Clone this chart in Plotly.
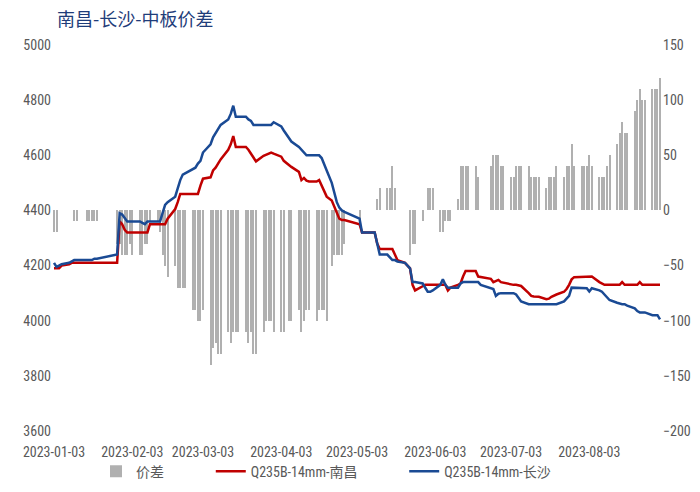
import pandas as pd
import plotly.graph_objects as go

# ---------------- data ----------------
holidays = ["2023-01-23", "2023-01-24", "2023-01-25", "2023-01-26", "2023-01-27",
            "2023-04-05", "2023-05-01", "2023-05-02", "2023-05-03",
            "2023-06-22", "2023-06-23"]
makeup_days = ["2023-01-28", "2023-01-29", "2023-04-23", "2023-05-06", "2023-06-25"]

bdays = pd.bdate_range("2023-01-03", "2023-08-31")
dates = sorted(set(bdays.strftime("%Y-%m-%d")) - set(holidays) | set(makeup_days))

changsha = [  # Q235B-14mm-长沙
    4210, 4195, 4200, 4205,
    4210, 4215, 4220, 4220, 4220,
    4220, 4220, 4220, 4225, 4225,
    4240, 4390,
    4385, 4370, 4360, 4360, 4360,
    4360, 4355, 4350, 4360, 4360,
    4360, 4360, 4390, 4420, 4430,
    4450, 4480, 4510, 4530, 4535,
    4550, 4555, 4570, 4580, 4610,
    4640, 4665, 4680, 4700, 4710,
    4730, 4750, 4780, 4740, 4740,
    4740, 4730, 4725, 4710, 4710,
    4710, 4710, 4710, 4710, 4720,
    4705, 4690, 4660, 4650,
    4630, 4620, 4610, 4600, 4600,
    4600, 4600, 4590, 4570, 4545,
    4500, 4460, 4430, 4410, 4400, 4395,
    4370, 4320, 4320,
    4320, 4320, 4320, 4280, 4240,
    4240, 4230, 4220, 4220, 4215,
    4210, 4200, 4190, 4140, 4140,
    4135, 4120, 4105, 4105, 4110,
    4130, 4150, 4130, 4120, 4120,
    4120, 4135, 4140, 4140, 4140,
    4140, 4140, 4130,
    4120, 4115, 4090, 4098, 4100, 4100,
    4100, 4100, 4095, 4080, 4070,
    4060, 4060, 4060, 4060, 4060,
    4060, 4060, 4060, 4060, 4060,
    4070, 4080, 4090, 4120, 4120,
    4120, 4120, 4118, 4106, 4118,
    4110, 4105, 4095, 4085, 4075,
    4065, 4062, 4060, 4060, 4055,
    4045, 4035, 4030, 4030, 4030,
    4020, 4020, 4020, 4005,
]

nanchang = [  # Q235B-14mm-南昌
    4190, 4190, 4190, 4200,
    4205, 4210, 4210, 4210, 4210,
    4210, 4210, 4210, 4210, 4210,
    4210, 4360,
    4350, 4330, 4320, 4320, 4320,
    4320, 4320, 4320, 4320, 4350,
    4350, 4350, 4350, 4350, 4370,
    4405, 4430, 4460, 4460, 4460,
    4460, 4460, 4460, 4490, 4515,
    4520, 4545, 4555, 4570, 4585,
    4620, 4640, 4670, 4630, 4630,
    4630, 4620, 4605, 4590, 4578,
    4598, 4602, 4608, 4610, 4606,
    4595, 4580, 4565, 4558,
    4540, 4510, 4518, 4508, 4505,
    4505, 4510, 4490, 4470, 4450,
    4436, 4415, 4390, 4370, 4365, 4365,
    4350, 4320, 4320,
    4320, 4320, 4320, 4280, 4260,
    4260, 4260, 4260, 4240, 4220,
    4210, 4200, 4190, 4130, 4110,
    4125, 4130, 4130, 4130, 4130,
    4130, 4130, 4130, 4110, 4120,
    4130, 4135, 4160, 4180, 4180,
    4180, 4160, 4158,
    4152, 4140, 4145, 4148, 4140, 4138,
    4130, 4130, 4130, 4128, 4126,
    4100, 4090, 4088, 4087, 4087,
    4078, 4080, 4087, 4090, 4095,
    4105, 4115, 4130, 4150, 4158,
    4160, 4160, 4160, 4160, 4160,
    4140, 4135, 4130, 4130, 4130,
    4130, 4130, 4140, 4130, 4130,
    4130, 4130, 4140, 4130, 4130,
    4130, 4130, 4130, 4130,
]

spread = [  # 价差
    -20, -20, 0, 0,
    0, 0, -10, -10, 0,
    -10, -10, -10, -10, -10,
    -30, -30,
    -40, -40, -40, -30, -40,
    -40, -40, -30, -30, -10,
    -10, -20, -40, -50, -60,
    -50, -70, -70, -70, -70,
    -90, -90, -100, -100, -90,
    -140, -125, -120, -130, -130,
    -110, -120, -110, -110, -110,
    -110, -120, -110, -130, -130,
    -110, -100, -100, -100, -110,
    -110, -110, -100, -100,
    -90, -110, -100, -90, -90,
    -100, -90, -90, -90, -100,
    -50, -40, -40, -40, -40, -30,
    -10, 0, 0,
    0, 0, 0, 10, 20,
    20, 20, 40, 20, 0,
    0, 0, -40, -30, -30,
    -10, 0, 20, 20, 20,
    -20, -20, -10, -10, -10,
    10, 40, 40, 40, 40,
    40, 30, 0,
    40, 50, 50, 50, 40, 40,
    30, 30, 40, 40, 40,
    40, 30, 30, 30, 30,
    20, 30, 30, 30, 40,
    30, 40, 40, 60, 40,
    40, 40, 40, 50, 40,
    30, 30, 30, 40, 50,
    60, 70, 80, 70, 70,
    90, 100, 110, 100, 100,
    110, 110, 110, 120,
]

tick_dates = ["2023-01-03", "2023-02-03", "2023-03-03", "2023-04-03",
              "2023-05-03", "2023-06-03", "2023-07-03", "2023-08-03"]

series_names = ["价差", "Q235B-14mm-南昌", "Q235B-14mm-长沙"]

assert len(dates) == len(changsha) == len(nanchang) == len(spread), (
    len(dates), len(changsha), len(nanchang), len(spread))

# ---------------- figure ----------------
font_fam = "Liberation Sans Narrow, Arial Narrow, Roboto Condensed, Noto Sans CJK SC, sans-serif"
tick_color = "#595959"
NB = "\u00a0"

fig = go.Figure()
fig.add_trace(go.Bar(
    x=dates, y=spread, name=series_names[0] + NB * 13, yaxis="y",
    marker=dict(color="#b0b0b0", line=dict(width=0)),
    width=0.4 * 86400000,
))
fig.add_trace(go.Scatter(
    x=dates, y=nanchang, name=series_names[1] + NB * 13, yaxis="y2", mode="lines",
    line=dict(color="#c00000", width=2.5),
))
fig.add_trace(go.Scatter(
    x=dates, y=changsha, name=series_names[2], yaxis="y2", mode="lines",
    line=dict(color="#1a4a94", width=2.5),
))

fig.update_layout(
    width=700, height=492,
    margin=dict(l=52, r=38, t=45, b=61, autoexpand=False),
    paper_bgcolor="white", plot_bgcolor="white",
    bargap=0,
    title=dict(text="南昌-长沙-中板价差", x=57 / 700, xanchor="left",
               y=1 - 20 / 492, yanchor="middle",
               font=dict(family="Noto Sans CJK SC", size=18, color="#1f3d7a")),
    xaxis=dict(
        type="date",
        range=["2023-01-02 05:00", "2023-08-31 19:00"],
        tickvals=tick_dates, ticktext=tick_dates,
        tickangle=0, automargin=False,
        showgrid=False, zeroline=False, showline=False, ticks="",
        ticklabelstandoff=11,
        tickfont=dict(family=font_fam, size=14, color=tick_color),
    ),
    yaxis=dict(
        side="right", range=[-200, 150], dtick=50, automargin=False,
        showgrid=False, zeroline=False, showline=False, ticks="",
        tickfont=dict(family=font_fam, size=14, color=tick_color),
    ),
    yaxis2=dict(
        side="left", overlaying="y", range=[3600, 5000], dtick=200,
        automargin=False,
        showgrid=False, zeroline=False, showline=False, ticks="",
        tickfont=dict(family=font_fam, size=14, color=tick_color),
    ),
    legend=dict(orientation="h", x=(96 - 52) / 610, xanchor="left",
                y=-0.105, yanchor="middle",
                font=dict(family=font_fam, size=14, color=tick_color),
                bgcolor="rgba(0,0,0,0)"),
    showlegend=True,
)

fig.write_html("out.html")
